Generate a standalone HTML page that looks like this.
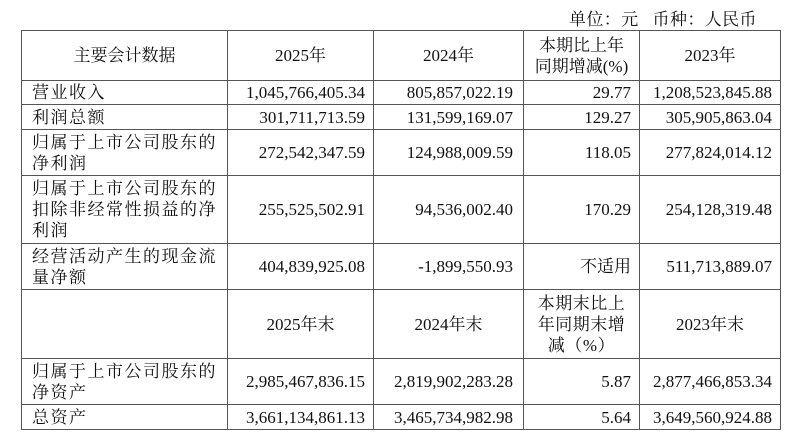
<!DOCTYPE html>
<html><head><meta charset="utf-8"><style>
html,body{margin:0;padding:0;background:#fff;width:799px;height:441px;overflow:hidden}
body{font-family:"Liberation Serif","Noto Serif CJK SC",serif;font-size:17px;color:#111;position:relative}
.unit{position:absolute;left:569px;top:5px;font-size:17px;letter-spacing:0.4px;white-space:pre}
table{position:absolute;left:21px;top:30px;border-collapse:collapse;table-layout:fixed}
td{border:1px solid #555;padding:0;line-height:21px;vertical-align:middle;overflow:hidden;white-space:nowrap}
td.l{text-align:left;padding-left:10px;letter-spacing:1.5px}
td.n{text-align:right;padding-right:8px}
td.n2{text-align:right;padding-right:10px}
td.c{text-align:center}
</style></head><body>
<div class="unit">单位：元   币种：人民币</div>
<table>
<colgroup><col style="width:206px"><col style="width:146px"><col style="width:150px"><col style="width:116px"><col style="width:141px"></colgroup>
<tr style="height:50px"><td class="c">主要会计数据</td><td class="c">2025年</td><td class="c">2024年</td><td class="c">本期比上年<br>同期增减(%)</td><td class="c">2023年</td></tr>
<tr style="height:24px"><td class="l">营业收入</td><td class="n">1,045,766,405.34</td><td class="n2">805,857,022.19</td><td class="n">29.77</td><td class="n">1,208,523,845.88</td></tr>
<tr style="height:25px"><td class="l">利润总额</td><td class="n">301,711,713.59</td><td class="n2">131,599,169.07</td><td class="n">129.27</td><td class="n">305,905,863.04</td></tr>
<tr style="height:46px"><td class="l">归属于上市公司股东的<br>净利润</td><td class="n">272,542,347.59</td><td class="n2">124,988,009.59</td><td class="n">118.05</td><td class="n">277,824,014.12</td></tr>
<tr style="height:68px"><td class="l">归属于上市公司股东的<br>扣除非经常性损益的净<br>利润</td><td class="n">255,525,502.91</td><td class="n2">94,536,002.40</td><td class="n">170.29</td><td class="n">254,128,319.48</td></tr>
<tr style="height:46px"><td class="l">经营活动产生的现金流<br>量净额</td><td class="n">404,839,925.08</td><td class="n2">-1,899,550.93</td><td class="n">不适用</td><td class="n">511,713,889.07</td></tr>
<tr style="height:69px"><td></td><td class="c">2025年末</td><td class="c">2024年末</td><td class="c" style="letter-spacing:0.5px">本期末比上<br>年同期末增<br>减（%）</td><td class="c">2023年末</td></tr>
<tr style="height:46px"><td class="l">归属于上市公司股东的<br>净资产</td><td class="n">2,985,467,836.15</td><td class="n2">2,819,902,283.28</td><td class="n">5.87</td><td class="n">2,877,466,853.34</td></tr>
<tr style="height:25px"><td class="l">总资产</td><td class="n">3,661,134,861.13</td><td class="n2">3,465,734,982.98</td><td class="n">5.64</td><td class="n">3,649,560,924.88</td></tr>
</table>
</body></html>
